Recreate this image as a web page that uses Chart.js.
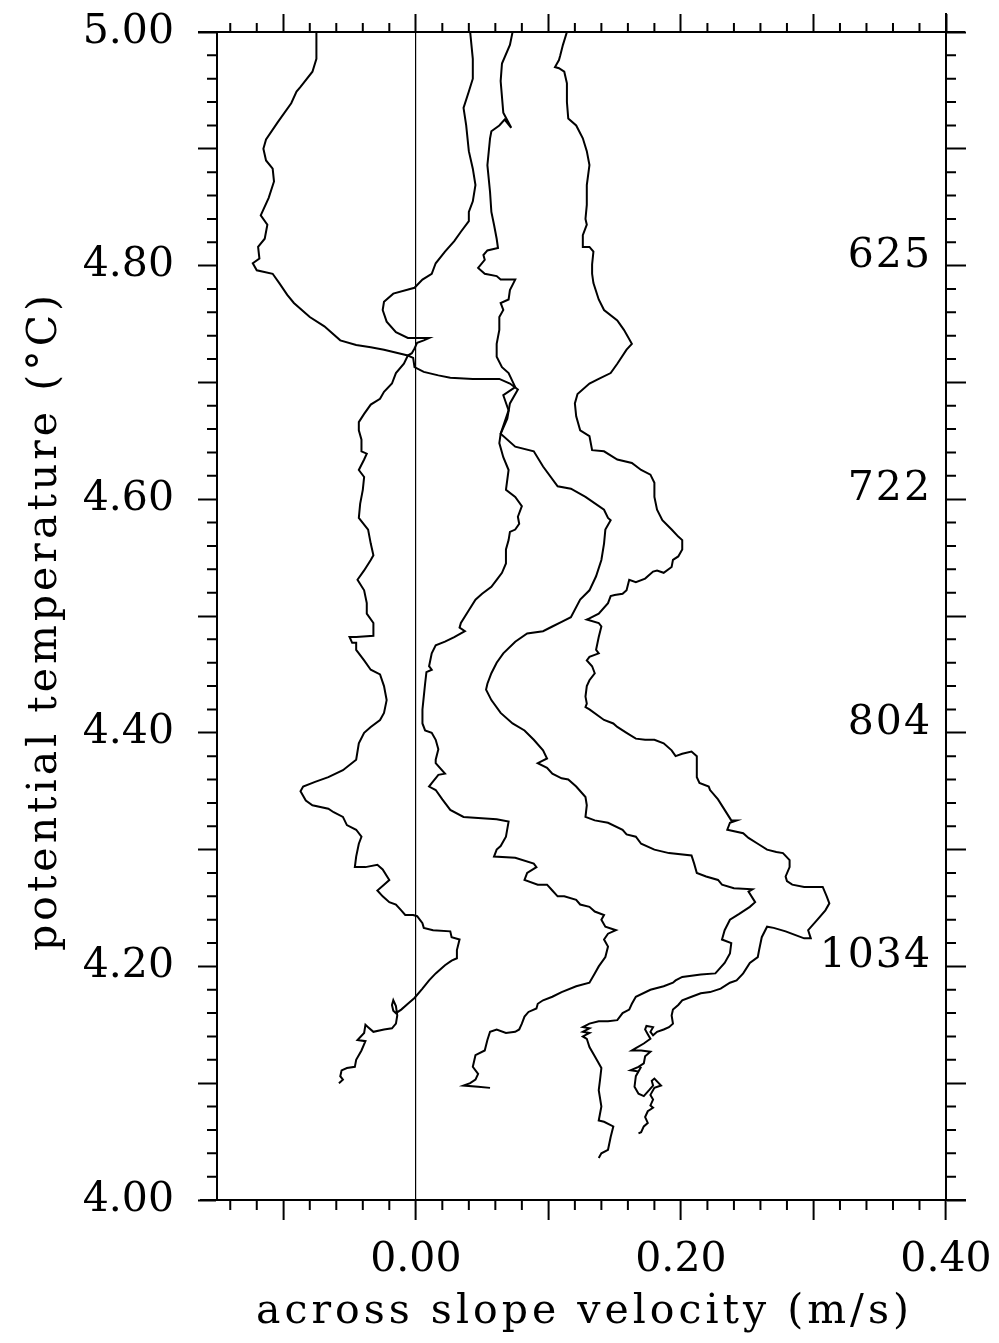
<!DOCTYPE html>
<html>
<head>
<meta charset="utf-8">
<script src="https://cdn.jsdelivr.net/npm/chart.js@4/dist/chart.umd.min.js"></script>
<style>
  html, body { margin: 0; padding: 0; background: #fff; }
  canvas { display: block; }
</style>
</head>
<body>
<canvas id="profiles" width="999" height="1343"></canvas>
<script>
// ===============================
// DATA
// each profile: [across slope velocity (m/s), potential temperature (°C)]
// ===============================

const profileA = [
  [-0.075,5.000],[-0.075,4.977],[-0.078,4.966],[-0.087,4.953],[-0.090,4.949],[-0.094,4.939],[-0.104,4.923],
  [-0.113,4.908],[-0.115,4.900],[-0.113,4.890],[-0.108,4.883],[-0.107,4.872],[-0.111,4.858],[-0.117,4.843],
  [-0.112,4.835],[-0.114,4.823],[-0.119,4.816],[-0.118,4.806],[-0.123,4.802],[-0.120,4.796],
  [-0.108,4.793],[-0.103,4.785],[-0.097,4.775],[-0.092,4.768],[-0.080,4.756],[-0.069,4.748],[-0.057,4.736],
  [-0.045,4.732],[-0.034,4.730],[-0.024,4.728],[-0.013,4.725],[-0.006,4.723],
  [-0.002,4.721],[-0.001,4.713],[0.006,4.709],[0.017,4.706],[0.026,4.704],[0.043,4.703],[0.063,4.703],
  [0.071,4.699],[0.077,4.694],
  [0.071,4.682],[0.069,4.669],[0.064,4.656],[0.063,4.648],[0.066,4.636],[0.070,4.625],[0.068,4.608],
  [0.075,4.602],[0.080,4.594],[0.077,4.585],
  [0.078,4.579],[0.075,4.574],[0.071,4.572],[0.070,4.565],[0.068,4.557],[0.068,4.545],[0.065,4.537],
  [0.061,4.531],[0.057,4.525],[0.050,4.519],[0.045,4.514],[0.040,4.505],[0.034,4.494],[0.033,4.490],
  [0.037,4.487],[0.029,4.482],[0.022,4.478],[0.015,4.475],[0.012,4.468],[0.010,4.457],[0.012,4.454],
  [0.008,4.452],[0.007,4.442],[0.006,4.431],[0.005,4.420],[0.005,4.408],[0.007,4.402],[0.012,4.400],
  [0.015,4.394],[0.017,4.386],[0.015,4.377],
  [0.015,4.374],[0.022,4.365],[0.017,4.364],[0.012,4.357],[0.010,4.354],[0.015,4.351],[0.020,4.343],
  [0.026,4.334],[0.036,4.328],[0.047,4.327],[0.061,4.326],[0.070,4.324],[0.068,4.311],[0.064,4.303],
  [0.061,4.300],[0.059,4.294],[0.075,4.293],[0.089,4.288],[0.091,4.285],[0.084,4.280],[0.082,4.274],
  [0.092,4.270],[0.099,4.270],[0.103,4.265],[0.107,4.260],[0.112,4.260],[0.121,4.257],[0.124,4.253],
  [0.131,4.251],[0.135,4.247],[0.142,4.244],[0.140,4.240],[0.143,4.234],[0.151,4.231],[0.145,4.228],
  [0.142,4.223],[0.145,4.217],[0.143,4.208],[0.138,4.200],[0.135,4.194],[0.131,4.186],[0.121,4.183],
  [0.110,4.178],[0.103,4.174],
  [0.096,4.171],[0.092,4.168],[0.091,4.164],[0.085,4.161],[0.082,4.157],[0.080,4.151],[0.078,4.146],
  [0.075,4.144],[0.068,4.143],[0.061,4.146],[0.056,4.144],[0.054,4.137],[0.052,4.128],[0.045,4.124],
  [0.043,4.114],[0.047,4.108],[0.045,4.103],[0.041,4.100],[0.036,4.098],[0.047,4.097],[0.056,4.096]
];

const profileB = [
  [0.041,5.000],[0.043,4.977],[0.043,4.960],[0.040,4.949],[0.036,4.935],[0.038,4.920],[0.040,4.898],
  [0.043,4.883],[0.045,4.869],[0.043,4.855],[0.040,4.846],[0.040,4.838],[0.034,4.829],[0.029,4.821],
  [0.022,4.812],[0.015,4.802],
  [0.012,4.793],[0.005,4.788],[-0.001,4.781],[-0.017,4.776],[-0.024,4.769],[-0.025,4.762],[-0.022,4.752],
  [-0.015,4.743],[-0.006,4.738],[0.005,4.738],[0.010,4.738],[0.006,4.736],[0.001,4.734],[-0.001,4.729],
  [-0.003,4.725],[-0.006,4.723],
  [-0.009,4.716],[-0.015,4.708],[-0.018,4.699],[-0.024,4.692],[-0.027,4.686],[-0.034,4.681],[-0.039,4.673],
  [-0.043,4.666],[-0.043,4.659],[-0.041,4.651],[-0.041,4.641],[-0.037,4.639],[-0.039,4.634],[-0.043,4.625],
  [-0.039,4.619],[-0.040,4.608],[-0.042,4.596],[-0.043,4.584],
  [-0.036,4.574],[-0.034,4.562],[-0.032,4.552],[-0.034,4.548],[-0.039,4.539],[-0.044,4.531],[-0.039,4.522],
  [-0.037,4.511],[-0.037,4.502],[-0.032,4.494],[-0.032,4.483],[-0.045,4.482],[-0.050,4.482],[-0.048,4.477],
  [-0.045,4.477],[-0.045,4.471],[-0.039,4.462],[-0.034,4.454],[-0.027,4.450],[-0.024,4.440],[-0.022,4.428],
  [-0.024,4.417],[-0.027,4.411],[-0.034,4.405],[-0.039,4.400],[-0.043,4.391],[-0.045,4.377],
  [-0.055,4.368],[-0.066,4.362],[-0.076,4.358],[-0.085,4.354],[-0.087,4.350],[-0.083,4.342],[-0.078,4.338],
  [-0.066,4.335],[-0.062,4.332],[-0.055,4.328],[-0.052,4.321],[-0.045,4.317],[-0.041,4.311],[-0.043,4.305],
  [-0.045,4.294],[-0.046,4.285],[-0.038,4.285],[-0.029,4.287],[-0.025,4.283],[-0.020,4.274],[-0.024,4.270],
  [-0.029,4.265],[-0.025,4.260],[-0.020,4.255],[-0.015,4.253],[-0.011,4.248],[-0.008,4.244],[-0.002,4.244],
  [0.001,4.243],[0.005,4.237],[0.006,4.233],[0.013,4.231],[0.026,4.230],[0.027,4.225],[0.033,4.223],
  [0.031,4.214],[0.031,4.207],[0.027,4.205],[0.022,4.201],[0.015,4.194],[0.010,4.188],[0.005,4.181],
  [-0.001,4.173],
  [-0.006,4.168],[-0.011,4.163],[-0.015,4.160],[-0.017,4.162],[-0.018,4.167],[-0.017,4.171],[-0.015,4.166],
  [-0.014,4.158],[-0.015,4.151],[-0.018,4.147],[-0.024,4.146],[-0.032,4.144],[-0.036,4.148],[-0.038,4.150],
  [-0.039,4.143],[-0.044,4.137],[-0.038,4.136],[-0.041,4.128],[-0.045,4.120],[-0.046,4.114],[-0.052,4.113],
  [-0.056,4.111],[-0.057,4.106],[-0.055,4.103],[-0.058,4.100]
];

const profileC = [
  [0.073,5.000],[0.071,4.989],[0.065,4.973],[0.064,4.958],[0.066,4.931],[0.072,4.918],[0.067,4.925],
  [0.063,4.920],[0.057,4.915],[0.056,4.909],[0.054,4.886],[0.056,4.863],[0.057,4.846],[0.059,4.835],
  [0.061,4.823],[0.062,4.815],[0.054,4.813],[0.051,4.809],[0.052,4.805],[0.047,4.798],
  [0.052,4.793],[0.061,4.791],[0.064,4.788],[0.075,4.788],[0.071,4.779],[0.070,4.771],[0.064,4.768],
  [0.066,4.762],[0.063,4.756],[0.063,4.745],[0.061,4.733],[0.061,4.722],[0.065,4.713],[0.070,4.708],
  [0.075,4.696],[0.066,4.689],[0.070,4.676],[0.064,4.656],[0.075,4.645],[0.089,4.641],[0.096,4.628],
  [0.107,4.611],[0.117,4.609],[0.128,4.602],[0.142,4.591],[0.145,4.584],
  [0.147,4.582],[0.143,4.574],[0.142,4.562],[0.140,4.548],[0.136,4.534],[0.131,4.522],[0.124,4.514],
  [0.117,4.499],[0.110,4.495],[0.103,4.491],[0.096,4.487],[0.084,4.485],[0.075,4.478],[0.066,4.468],
  [0.061,4.460],[0.057,4.451],[0.054,4.442],[0.053,4.437],[0.057,4.428],[0.064,4.417],[0.073,4.408],
  [0.082,4.402],[0.089,4.394],[0.096,4.385],[0.099,4.378],
  [0.092,4.374],[0.099,4.370],[0.103,4.365],[0.110,4.361],[0.115,4.360],[0.121,4.354],[0.128,4.345],
  [0.129,4.338],[0.128,4.328],[0.135,4.325],[0.145,4.323],[0.156,4.317],[0.159,4.313],[0.166,4.311],
  [0.170,4.305],[0.180,4.300],[0.191,4.297],[0.208,4.295],[0.210,4.288],[0.212,4.280],[0.219,4.277],
  [0.228,4.274],[0.231,4.270],[0.240,4.267],[0.254,4.266],[0.251,4.264],[0.256,4.255],[0.252,4.251],
  [0.244,4.245],[0.237,4.240],[0.233,4.231],[0.231,4.223],[0.238,4.220],[0.237,4.211],[0.233,4.203],
  [0.226,4.194],[0.215,4.193],[0.201,4.191],[0.196,4.188],[0.194,4.186],[0.187,4.183],[0.177,4.180],
  [0.166,4.174],
  [0.163,4.168],[0.161,4.163],[0.156,4.160],[0.152,4.154],[0.145,4.153],[0.138,4.153],[0.131,4.151],
  [0.126,4.148],[0.131,4.147],[0.126,4.144],[0.131,4.143],[0.126,4.140],[0.129,4.138],[0.131,4.131],
  [0.135,4.123],[0.138,4.117],[0.140,4.113],[0.139,4.103],[0.138,4.094],[0.140,4.080],[0.138,4.068],
  [0.142,4.067],[0.149,4.063],[0.147,4.054],[0.145,4.043],[0.140,4.040],[0.138,4.036]
];

const profileD = [
  [0.114,5.000],[0.111,4.989],[0.109,4.980],[0.108,4.976],[0.105,4.970],[0.108,4.969],[0.112,4.966],
  [0.114,4.956],[0.114,4.940],[0.115,4.926],[0.121,4.920],[0.126,4.909],[0.129,4.898],[0.131,4.886],
  [0.129,4.869],[0.129,4.852],[0.128,4.840],[0.129,4.835],[0.126,4.826],[0.126,4.816],[0.131,4.816],
  [0.134,4.812],[0.133,4.801],
  [0.133,4.793],[0.134,4.785],[0.138,4.771],[0.142,4.762],[0.152,4.753],[0.157,4.745],[0.163,4.733],
  [0.159,4.728],[0.152,4.716],[0.147,4.708],[0.138,4.703],[0.131,4.699],[0.122,4.690],[0.120,4.682],
  [0.121,4.671],[0.124,4.659],[0.131,4.654],[0.133,4.642],[0.142,4.641],[0.152,4.634],[0.163,4.631],
  [0.170,4.625],[0.177,4.621],[0.180,4.614],[0.180,4.602],[0.182,4.591],
  [0.186,4.582],[0.193,4.574],[0.198,4.568],[0.201,4.565],[0.201,4.557],[0.198,4.551],[0.194,4.548],
  [0.193,4.542],[0.187,4.537],[0.182,4.539],[0.179,4.538],[0.173,4.532],[0.166,4.529],[0.161,4.531],
  [0.159,4.522],[0.156,4.519],[0.150,4.518],[0.147,4.517],[0.145,4.511],[0.138,4.502],[0.131,4.498],
  [0.129,4.497],[0.138,4.494],[0.140,4.491],[0.138,4.482],[0.136,4.471],[0.138,4.468],[0.131,4.465],
  [0.129,4.462],[0.133,4.457],[0.135,4.451],[0.131,4.445],[0.129,4.440],[0.128,4.431],[0.129,4.425],
  [0.128,4.422],[0.131,4.420],[0.142,4.411],[0.149,4.408],[0.152,4.405],[0.159,4.400],[0.166,4.395],
  [0.173,4.394],[0.180,4.394],[0.187,4.391],[0.193,4.385],[0.196,4.380],
  [0.201,4.382],[0.208,4.384],[0.212,4.380],[0.212,4.362],[0.214,4.357],[0.221,4.354],[0.222,4.351],
  [0.228,4.343],[0.233,4.334],[0.238,4.325],[0.242,4.325],[0.237,4.323],[0.235,4.317],[0.247,4.314],
  [0.251,4.310],[0.258,4.305],[0.265,4.300],[0.272,4.298],[0.277,4.297],[0.282,4.291],[0.282,4.285],
  [0.279,4.277],[0.280,4.273],[0.284,4.270],[0.293,4.268],[0.307,4.268],[0.310,4.260],[0.312,4.254],
  [0.309,4.248],[0.303,4.240],[0.296,4.231],[0.298,4.224],[0.293,4.224],[0.286,4.227],[0.279,4.230],
  [0.270,4.233],[0.265,4.234],[0.261,4.225],[0.259,4.214],[0.258,4.208],[0.252,4.203],[0.247,4.194],
  [0.242,4.188],[0.237,4.186],[0.230,4.181],[0.222,4.178],[0.215,4.177],[0.208,4.174],
  [0.201,4.171],[0.198,4.167],[0.194,4.163],[0.193,4.158],[0.194,4.151],[0.191,4.148],[0.187,4.146],
  [0.182,4.144],[0.179,4.141],[0.177,4.144],[0.179,4.148],[0.174,4.149],[0.173,4.146],[0.175,4.142],
  [0.177,4.138],[0.172,4.134],[0.166,4.130],[0.163,4.128],[0.170,4.128],[0.177,4.127],[0.173,4.123],
  [0.172,4.117],[0.168,4.114],[0.162,4.111],[0.168,4.110],[0.170,4.114],[0.166,4.106],[0.165,4.097],
  [0.168,4.091],[0.172,4.089],[0.176,4.094],[0.179,4.098],[0.178,4.102],[0.180,4.104],[0.185,4.098],
  [0.180,4.096],[0.177,4.090],[0.179,4.086],[0.177,4.081],[0.179,4.079],[0.175,4.076],[0.173,4.071],
  [0.175,4.066],[0.172,4.063],[0.170,4.058],[0.168,4.057]
];

// depth labels written inside the right edge, at these temperatures
const depthLabels = ["625", "722", "804", "1034"];
const depthTemps = [4.80, 4.60, 4.40, 4.20];

// axis ranges and ticks
const velRange = [-0.15, 0.40];
const tempRange = [4.00, 5.00];
const majorStep = 0.1;
const minorStep = 0.02;

const xTitle = "across slope velocity (m/s)";
const yTitle = "potential temperature (°C)";

// ===============================
// STYLE
// ===============================
const FONT = '"DejaVu Serif", serif';
const FONT_SIZE = 41;

Chart.defaults.font.family = FONT;
Chart.defaults.font.size = FONT_SIZE;
Chart.defaults.color = "#000";

// label only every second major tick (0.2 spacing)
function everyOther(value) {
    const n = Math.round(value / majorStep);
    return n % 2 === 0 ? value.toFixed(2) : "";
}

// pin the axis box so the plot frame lands where the original has it
function fixSize(prop, size) {
    return scale => {
        scale[prop] = size;
        scale.paddingLeft = 0;
        scale.paddingRight = 0;
        scale.paddingTop = 0;
        scale.paddingBottom = 0;
    };
}

// minor ticks, frame overhang, axis titles and depth labels
const frameExtras = {
    id: "frameExtras",
    afterDraw(chart) {
        const { ctx, chartArea: a, scales } = chart;
        const xs = scales.x;
        const ys = scales.y;

        ctx.save();
        ctx.strokeStyle = "#000";
        ctx.lineWidth = 2;
        ctx.beginPath();

        const xFrom = Math.ceil(velRange[0] / minorStep);
        const xTo = Math.floor(velRange[1] / minorStep);
        for (let i = xFrom; i <= xTo; i++) {
            if (i % 5 === 0) continue;
            const px = xs.getPixelForValue(i * minorStep);
            ctx.moveTo(px, a.bottom);
            ctx.lineTo(px, a.bottom + 10);
            ctx.moveTo(px, a.top);
            ctx.lineTo(px, a.top - 9);
        }

        const yFrom = Math.round(tempRange[0] / minorStep);
        const yTo = Math.round(tempRange[1] / minorStep);
        for (let i = yFrom; i <= yTo; i++) {
            if (i % 5 === 0) continue;
            const py = ys.getPixelForValue(i * minorStep);
            ctx.moveTo(a.left - 10, py);
            ctx.lineTo(a.left, py);
            ctx.moveTo(a.right, py);
            ctx.lineTo(a.right + 10, py);
        }

        // top and bottom lines run past the box, right side pokes above it
        ctx.moveTo(a.left - 19, a.top);
        ctx.lineTo(a.right + 19, a.top);
        ctx.moveTo(a.left - 17, a.bottom);
        ctx.lineTo(a.right + 20, a.bottom);
        ctx.moveTo(a.right, a.top - 19);
        ctx.lineTo(a.right, a.top);
        ctx.stroke();

        ctx.fillStyle = "#000";
        ctx.font = FONT_SIZE + "px " + FONT;
        ctx.textBaseline = "alphabetic";

        // depth labels, sitting on their tick
        ctx.textAlign = "right";
        ctx.letterSpacing = "2px";
        depthLabels.forEach((label, i) => {
            ctx.fillText(label, a.right - 14, ys.getPixelForValue(depthTemps[i]) + 1);
        });

        // axis titles, widely spaced like the original lettering
        ctx.textAlign = "center";
        ctx.letterSpacing = "4px";
        ctx.fillText(xTitle, (a.left + a.right) / 2 + 3, 1323);

        ctx.translate(56, (a.top + a.bottom) / 2 + 5);
        ctx.rotate(-Math.PI / 2);
        ctx.fillText(yTitle, 0, 0);
        ctx.restore();
    }
};

function lineSet(points) {
    return {
        data: points.map(p => ({ x: p[0], y: p[1] })),
        showLine: true,
        borderColor: "#000",
        borderWidth: 2,
        pointRadius: 0,
        pointHoverRadius: 0,
        tension: 0,
        fill: false
    };
}

const tickGrid = len => ({
    drawOnChartArea: false,
    tickLength: len,
    tickWidth: 2,
    tickColor: "#000"
});

const frameBorder = { display: true, color: "#000", width: 2 };

new Chart(document.getElementById("profiles"), {
    type: "scatter",
    data: {
        datasets: [profileA, profileB, profileC, profileD].map(lineSet)
    },
    options: {
        responsive: false,
        animation: false,
        devicePixelRatio: 1,
        layout: { padding: 0 },
        plugins: {
            legend: { display: false },
            tooltip: { enabled: false }
        },
        scales: {
            x: {
                type: "linear",
                position: "bottom",
                min: velRange[0],
                max: velRange[1],
                ticks: {
                    stepSize: majorStep,
                    includeBounds: false,
                    autoSkip: false,
                    maxRotation: 0,
                    padding: 16,
                    callback: everyOther
                },
                grid: {
                    drawOnChartArea: true,
                    color: c => (c.tick && Math.abs(c.tick.value) < 1e-9 ? "#000" : "rgba(0,0,0,0)"),
                    lineWidth: 1.2,
                    tickLength: 20,
                    tickWidth: 2,
                    tickColor: "#000"
                },
                border: frameBorder,
                afterFit: fixSize("height", 143)
            },
            x2: {
                type: "linear",
                position: "top",
                min: velRange[0],
                max: velRange[1],
                ticks: { stepSize: majorStep, includeBounds: false, autoSkip: false, callback: () => "" },
                grid: tickGrid(18),
                border: frameBorder,
                afterFit: fixSize("height", 32)
            },
            y: {
                type: "linear",
                position: "left",
                min: tempRange[0],
                max: tempRange[1],
                ticks: {
                    stepSize: majorStep,
                    autoSkip: false,
                    padding: 24,
                    callback: everyOther
                },
                grid: tickGrid(19),
                border: frameBorder,
                afterFit: fixSize("width", 217)
            },
            y2: {
                type: "linear",
                position: "right",
                min: tempRange[0],
                max: tempRange[1],
                ticks: { stepSize: majorStep, autoSkip: false, callback: () => "" },
                grid: tickGrid(20),
                border: frameBorder,
                afterFit: fixSize("width", 53)
            }
        }
    },
    plugins: [frameExtras]
});
</script>
</body>
</html>
